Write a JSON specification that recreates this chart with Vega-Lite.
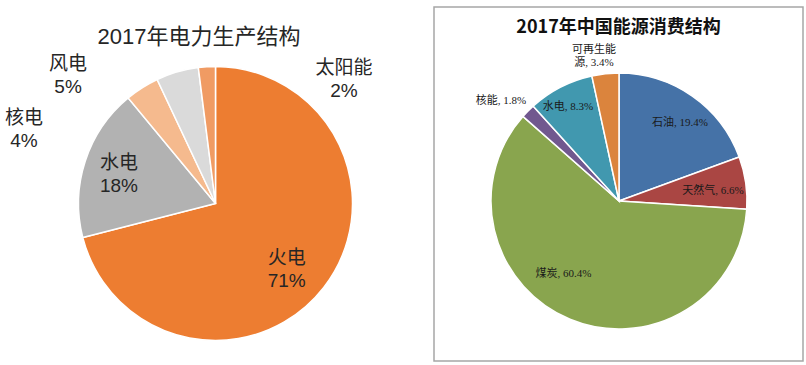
{
  "$schema": "https://vega.github.io/schema/vega-lite/v6.json",
  "background": "white",
  "padding": {"left": 0, "top": 6, "right": 0, "bottom": 0},
  "autosize": {"type": "pad"},
  "spacing": 3,
  "config": {"view": {"stroke": null}},
  "resolve": {"scale": {"color": "independent", "theta": "independent"}},
  "datasets": {
    "power": [
      {"name": "火电", "value": 71, "order": 1},
      {"name": "水电", "value": 18, "order": 2},
      {"name": "核电", "value": 4, "order": 3},
      {"name": "风电", "value": 5, "order": 4},
      {"name": "太阳能", "value": 2, "order": 5}
    ],
    "energy": [
      {"name": "石油", "value": 19.4, "order": 1, "label": "石油, 19.4%"},
      {"name": "天然气", "value": 6.6, "order": 2, "label": "天然气, 6.6%"},
      {"name": "煤炭", "value": 60.4, "order": 3, "label": "煤炭, 60.4%"},
      {"name": "核能", "value": 1.8, "order": 4, "label": "核能, 1.8%"},
      {"name": "水电", "value": 8.3, "order": 5, "label": "水电, 8.3%"},
      {"name": "可再生能源", "value": 3.4, "order": 6, "label": "可再生能\n源, 3.4%"}
    ]
  },
  "hconcat": [
    {
      "width": 430,
      "height": 354,
      "title": {
        "text": "2017年电力生产结构",
        "font": "Liberation Sans, Noto Sans CJK SC",
        "fontSize": 22,
        "fontWeight": "normal",
        "color": "#262626",
        "anchor": "middle",
        "frame": "group",
        "offset": -42,
        "dx": -16
      },
      "data": {"name": "power"},
      "transform": [
        {"stack": "value", "groupby": [], "sort": [{"field": "order", "order": "ascending"}], "as": ["v0", "v1"]},
        {"calculate": "(datum.v0 + datum.v1) / 2", "as": "mid"},
        {"calculate": "datum.name + '\\n' + datum.value + '%'", "as": "label"}
      ],
      "layer": [
        {
          "mark": {"type": "arc", "outerRadius": 137, "stroke": "white", "strokeWidth": 1.5, "yOffset": 19.5, "xOffset": 0.5},
          "encoding": {
            "theta": {"field": "v0", "type": "quantitative", "scale": {"domain": [0, 100]}},
            "theta2": {"field": "v1"},
            "color": {
              "field": "name",
              "type": "nominal",
              "scale": {
                "domain": ["火电", "水电", "核电", "风电", "太阳能"],
                "range": ["#ED7D31", "#B2B2B2", "#F5BA8E", "#DADADA", "#F09B63"]
              },
              "legend": null
            }
          }
        },
        {
          "transform": [{"filter": "datum.name === '火电'"}],
          "mark": {"type": "text", "radius": 97, "dx": -5, "dy": 15, "font": "Liberation Sans, Noto Sans CJK SC", "fontSize": 19, "lineBreak": "\n", "lineHeight": 23, "color": "#262626", "align": "center", "baseline": "middle"},
          "encoding": {"theta": {"field": "mid", "type": "quantitative"}, "text": {"field": "label"}}
        },
        {
          "transform": [{"filter": "datum.name === '水电'"}],
          "mark": {"type": "text", "radius": 101, "dx": 0, "dy": 10.2, "font": "Liberation Sans, Noto Sans CJK SC", "fontSize": 19, "lineBreak": "\n", "lineHeight": 23, "color": "#262626", "align": "center", "baseline": "middle"},
          "encoding": {"theta": {"field": "mid", "type": "quantitative"}, "text": {"field": "label"}}
        },
        {
          "transform": [{"filter": "datum.name === '核电'"}],
          "mark": {"type": "text", "radius": 150, "dx": -110.6, "dy": 60.6, "font": "Liberation Sans, Noto Sans CJK SC", "fontSize": 19, "lineBreak": "\n", "lineHeight": 23, "color": "#262626", "align": "center", "baseline": "middle"},
          "encoding": {"theta": {"field": "mid", "type": "quantitative"}, "text": {"field": "label"}}
        },
        {
          "transform": [{"filter": "datum.name === '风电'"}],
          "mark": {"type": "text", "radius": 150, "dx": -105.1, "dy": 24.3, "font": "Liberation Sans, Noto Sans CJK SC", "fontSize": 19, "lineBreak": "\n", "lineHeight": 23, "color": "#262626", "align": "center", "baseline": "middle"},
          "encoding": {"theta": {"field": "mid", "type": "quantitative"}, "text": {"field": "label"}}
        },
        {
          "transform": [{"filter": "datum.name === '太阳能'"}],
          "mark": {"type": "text", "radius": 150, "dx": 138.4, "dy": 34, "font": "Liberation Sans, Noto Sans CJK SC", "fontSize": 19, "lineBreak": "\n", "lineHeight": 23, "color": "#262626", "align": "center", "baseline": "middle"},
          "encoding": {"theta": {"field": "mid", "type": "quantitative"}, "text": {"field": "label"}}
        }
      ]
    },
    {
      "width": 369,
      "height": 354,
      "view": {"stroke": "#A6A6A6", "strokeWidth": 1.5},
      "title": {
        "text": "2017年中国能源消费结构",
        "font": "Noto Sans CJK SC",
        "fontSize": 18,
        "fontWeight": "bold",
        "color": "#111111",
        "anchor": "middle",
        "frame": "group",
        "offset": -30
      },
      "data": {"name": "energy"},
      "transform": [
        {"stack": "value", "groupby": [], "sort": [{"field": "order", "order": "ascending"}], "as": ["v0", "v1"]},
        {"calculate": "(datum.v0 + datum.v1) / 2", "as": "mid"}
      ],
      "layer": [
        {
          "mark": {"type": "arc", "outerRadius": 128, "stroke": "white", "strokeWidth": 1.5, "yOffset": 17, "xOffset": 0.5},
          "encoding": {
            "theta": {"field": "v0", "type": "quantitative", "scale": {"domain": [0, 99.9]}},
            "theta2": {"field": "v1"},
            "color": {
              "field": "name",
              "type": "nominal",
              "scale": {
                "domain": ["石油", "天然气", "煤炭", "核能", "水电", "可再生能源"],
                "range": ["#4572A7", "#AA4643", "#89A54E", "#71588F", "#4198AF", "#DB843D"]
              },
              "legend": null
            }
          }
        },
        {
          "transform": [{"filter": "datum.name === '石油'"}],
          "mark": {"type": "text", "radius": 97, "dx": 5.9, "dy": 19, "font": "Liberation Serif, Noto Sans CJK SC", "fontSize": 11, "color": "#1a1a1a", "align": "center", "baseline": "middle"},
          "encoding": {"theta": {"field": "mid", "type": "quantitative"}, "text": {"field": "label"}}
        },
        {
          "transform": [{"filter": "datum.name === '天然气'"}],
          "mark": {"type": "text", "radius": 94, "dx": 1.5, "dy": 20.4, "font": "Liberation Serif, Noto Sans CJK SC", "fontSize": 11, "color": "#1a1a1a", "align": "center", "baseline": "middle"},
          "encoding": {"theta": {"field": "mid", "type": "quantitative"}, "text": {"field": "label"}}
        },
        {
          "transform": [{"filter": "datum.name === '煤炭'"}],
          "mark": {"type": "text", "radius": 92, "dx": -19.8, "dy": 5, "font": "Liberation Serif, Noto Sans CJK SC", "fontSize": 11, "color": "#1a1a1a", "align": "center", "baseline": "middle"},
          "encoding": {"theta": {"field": "mid", "type": "quantitative"}, "text": {"field": "label"}}
        },
        {
          "transform": [{"filter": "datum.name === '核能'"}],
          "mark": {"type": "text", "radius": 150, "dx": -10.7, "dy": 22.3, "font": "Liberation Serif, Noto Sans CJK SC", "fontSize": 11, "color": "#1a1a1a", "align": "center", "baseline": "middle"},
          "encoding": {"theta": {"field": "mid", "type": "quantitative"}, "text": {"field": "label"}}
        },
        {
          "transform": [{"filter": "datum.name === '水电'"}],
          "mark": {"type": "text", "radius": 107, "dx": -1.6, "dy": 18.2, "font": "Liberation Serif, Noto Sans CJK SC", "fontSize": 11, "color": "#1a1a1a", "align": "center", "baseline": "middle"},
          "encoding": {"theta": {"field": "mid", "type": "quantitative"}, "text": {"field": "label"}}
        },
        {
          "transform": [{"filter": "datum.name === '可再生能源'"}],
          "mark": {"type": "text", "radius": 150, "dx": -8.6, "dy": 15.1, "font": "Liberation Serif, Noto Sans CJK SC", "fontSize": 11, "lineBreak": "\n", "lineHeight": 13, "color": "#1a1a1a", "align": "center", "baseline": "middle"},
          "encoding": {"theta": {"field": "mid", "type": "quantitative"}, "text": {"field": "label"}}
        }
      ]
    }
  ]
}
